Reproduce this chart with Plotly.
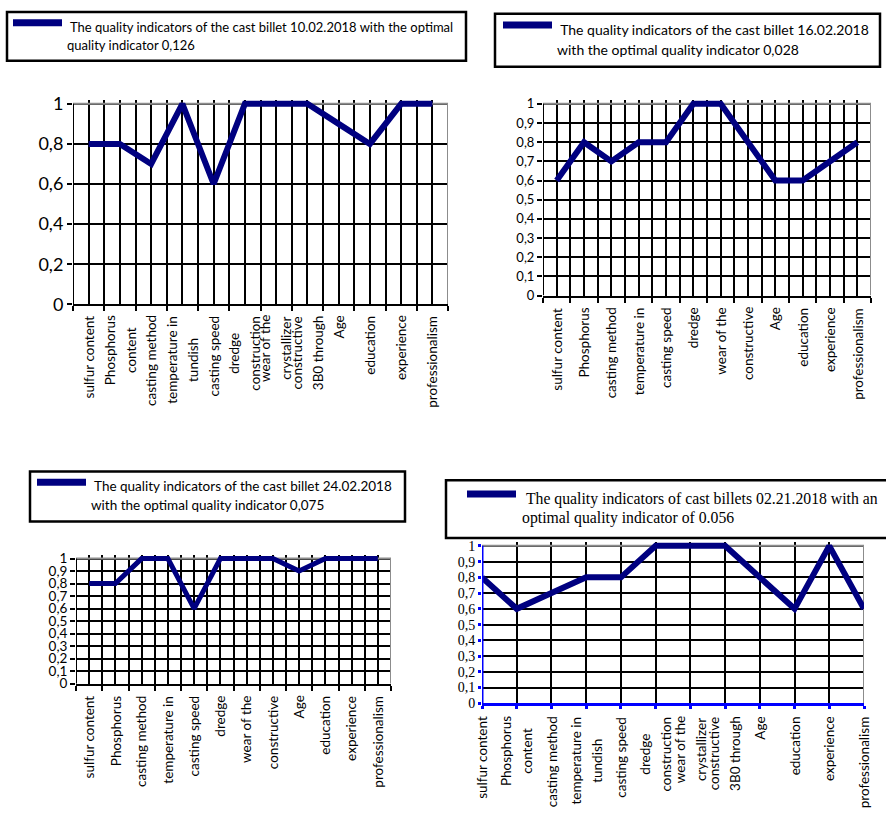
import plotly.graph_objects as go

# ---------------------------------------------------------------- data
CATEGORY_LINES = [
    ("sulfur content",),
    ("Phosphorus", "content"),
    ("casting method",),
    ("temperature in", "tundish"),
    ("casting speed",),
    ("dredge", "construction"),
    ("wear of the", "crystallizer"),
    ("constructive", "3B0 through"),
    ("Age",),
    ("education",),
    ("experience",),
    ("professionalism",),
]
POSITIONS = list(range(1, len(CATEGORY_LINES) + 1))

VALUES_10_02 = [0.8, 0.8, 0.7, 1.0, 0.6, 1.0, 1.0, 1.0, 0.9, 0.8, 1.0, 1.0]
VALUES_16_02 = [0.6, 0.8, 0.7, 0.8, 0.8, 1.0, 1.0, 0.8, 0.6, 0.6, 0.7, 0.8]
VALUES_24_02 = [0.8, 0.8, 1.0, 1.0, 0.6, 1.0, 1.0, 1.0, 0.9, 1.0, 1.0, 1.0]
VALUES_21_02 = [0.8, 0.6, 0.7, 0.8, 0.8, 1.0, 1.0, 1.0, 0.8, 0.6, 1.0, 0.6]

LEGEND_10_02 = ["\u00a0The quality indicators of the cast billet 10.02.2018 with the optimal",
                "quality indicator 0,126"]
LEGEND_16_02 = ["\u00a0The quality indicators of the cast billet 16.02.2018",
                "with the optimal quality indicator 0,028"]
LEGEND_24_02 = ["\u00a0The quality indicators of the cast billet 24.02.2018",
                "with the optimal quality indicator 0,075"]
LEGEND_21_02 = ["\u00a0The quality indicators of cast billets 02.21.2018 with an",
                "optimal quality indicator of 0.056"]

Y_TICKS_COARSE = [0, 0.2, 0.4, 0.6, 0.8, 1]
Y_TICKS_FINE = [0, 0.1, 0.2, 0.3, 0.4, 0.5, 0.6, 0.7, 0.8, 0.9, 1]

# ---------------------------------------------------------------- layout
W, H = 886, 816
NAVY = "#000080"
GREY = "#8c8c8c"
SANS = "Lato, 'Open Sans', sans-serif"
SERIF = "'Liberation Serif', 'DejaVu Serif', serif"

PANELS = [
    dict(values=VALUES_10_02, legend=LEGEND_10_02,
         box=(73, 448, 98, 303), mode="between", yticks=Y_TICKS_COARSE,
         yfont=dict(family=SANS, size=18), full_labels=True, label_shift=10,
         axis_color="black", axis_width=2, line_width=6,
         leg_box=(7, 4, 466, 54), leg_sample=(13, 62, 15), leg_text_x=65,
         leg_lines_y=(19, 38), leg_font=dict(family=SANS, size=13)),
    dict(values=VALUES_16_02, legend=LEGEND_16_02,
         box=(543, 871, 98, 294), mode="between", yticks=Y_TICKS_FINE,
         yfont=dict(family=SANS, size=13), full_labels=False, label_shift=11,
         axis_color="black", axis_width=2, line_width=6,
         leg_box=(495, 6, 880, 60), leg_sample=(503, 552, 17.5), leg_text_x=555,
         leg_lines_y=(22, 42), leg_font=dict(family=SANS, size=14)),
    dict(values=VALUES_24_02, legend=LEGEND_24_02,
         box=(76, 391, 563, 691), mode="between", yticks=Y_TICKS_FINE,
         yfont=dict(family=SANS, size=13.5), full_labels=False, label_shift=11,
         axis_color="black", axis_width=2, line_width=5,
         leg_box=(30, 474, 405, 525), leg_sample=(37, 86, 485), leg_text_x=89,
         leg_lines_y=(489, 508), leg_font=dict(family=SANS, size=13.5)),
    dict(values=VALUES_21_02, legend=LEGEND_21_02,
         box=(482, 864, 550, 711), mode="on", yticks=Y_TICKS_FINE,
         yfont=dict(family=SERIF, size=14), full_labels=True, label_shift=12,
         axis_color="#0000ff", axis_width=3, line_width=6,
         leg_box=(446, 483, 892, 542), leg_sample=(467, 516, 497), leg_text_x=520,
         leg_lines_y=(502, 522), leg_font=dict(family=SERIF, size=15.75)),
]

LABEL_FONT = 13.5     # glyph size of the category labels
LABEL_LINE_GAP = 21   # distance between wrapped label lines, px
TOP_PAD = 4           # room above the value 1 so the thick line is not clipped


def px(x):
    return x / W


def py(y):
    return 1 - y / H


fig = go.Figure()
shapes, annotations = [], []

for i, p in enumerate(PANELS, start=1):
    suffix = "" if i == 1 else str(i)
    xa, ya = f"x{suffix}", f"y{suffix}"
    left, right, top, bottom = p["box"]
    unit = bottom - top
    y_hi = 1 + TOP_PAD / unit

    fig.add_trace(go.Scatter(
        x=POSITIONS, y=p["values"], mode="lines",
        line=dict(color=NAVY, width=p["line_width"]),
        name=" ".join(p["legend"]).strip(), showlegend=False,
        xaxis=xa, yaxis=ya, hoverinfo="skip"))

    n = len(POSITIONS)
    between = p["mode"] == "between"
    if between:
        x_lo, x_hi = 0.5, n + 0.5
        edges = [k + 0.5 for k in range(n + 1)]
        xaxis = dict(tickmode="array", tickvals=edges, showgrid=True,
                     minor=dict(tickmode="array", tickvals=POSITIONS, showgrid=True,
                                gridcolor="black", gridwidth=2, ticks=""))
    else:
        x_lo, x_hi = 1, n
        xaxis = dict(tickmode="array", tickvals=POSITIONS, showgrid=True)
    xaxis.update(domain=[px(left), px(right)], anchor=ya, range=[x_lo, x_hi],
                 gridcolor="black", gridwidth=2, zeroline=False,
                 showline=True, linecolor=p["axis_color"], linewidth=p["axis_width"],
                 ticks="outside", ticklen=5 if between else 3,
                 tickwidth=2 if between else 3,
                 tickcolor=p["axis_color"], showticklabels=False, fixedrange=True)
    fig.layout[f"xaxis{suffix}"] = xaxis

    fig.layout[f"yaxis{suffix}"] = dict(
        domain=[py(bottom), py(top - TOP_PAD)], anchor=xa, range=[0, y_hi],
        tickmode="array", tickvals=p["yticks"], showgrid=True,
        gridcolor="black", gridwidth=2, zeroline=False, showline=False,
        ticks="outside", ticklen=5 if between else 3,
        tickwidth=2 if between else 3,
        tickcolor=p["axis_color"], tickfont=dict(color="black", **p["yfont"]),
        fixedrange=True)

    # plot-area frame: grey on top and right, value axis on the left
    shapes += [
        dict(type="line", xref=xa, yref=ya, x0=x_lo, x1=x_hi, y0=1, y1=1,
             line=dict(color=GREY, width=2), layer="between"),
        dict(type="line", xref=xa, yref=ya, x0=x_hi, x1=x_hi, y0=0, y1=1,
             line=dict(color=GREY, width=2), layer="between"),
        dict(type="line", xref=xa, yref=ya, x0=x_lo, x1=x_lo, y0=0, y1=1,
             line=dict(color=p["axis_color"], width=p["axis_width"]), layer="above"),
    ]

    # rotated category labels under the axis
    for pos, lines in zip(POSITIONS, CATEGORY_LINES):
        shown = lines if p["full_labels"] else lines[:1]
        text = "<br>".join(f"<span style='font-size:{LABEL_FONT}px'>{t}</span>" for t in shown)
        annotations.append(dict(
            xref=xa, x=pos, yref=f"{ya} domain", y=0, yshift=-p["label_shift"],
            text=text, textangle=-90, showarrow=False, xanchor="center", yanchor="top",
            align="center", borderpad=0,
            font=dict(family=SANS, size=LABEL_LINE_GAP / 1.3, color="black")))

    # legend box
    bx0, by0, bx1, by1 = p["leg_box"]
    sx0, sx1, sy = p["leg_sample"]
    shapes += [
        dict(type="rect", xref="paper", yref="paper", x0=px(bx0), x1=px(bx1),
             y0=py(by1), y1=py(by0), line=dict(color="black", width=2.5),
             fillcolor="rgba(0,0,0,0)", layer="above"),
        dict(type="line", xref="paper", yref="paper", x0=px(sx0), x1=px(sx1),
             y0=py(sy), y1=py(sy), line=dict(color=NAVY, width=7), layer="above"),
    ]
    for txt, ly in zip(p["legend"], p["leg_lines_y"]):
        annotations.append(dict(
            xref="paper", yref="paper", x=px(p["leg_text_x"]), y=py(ly),
            xanchor="left", yanchor="middle", text=txt, showarrow=False,
            font=dict(color="black", **p["leg_font"])))

fig.update_layout(
    width=W, height=H, margin=dict(l=0, r=0, t=0, b=0),
    paper_bgcolor="white", plot_bgcolor="rgba(0,0,0,0)",
    separators=", ", showlegend=False,
    shapes=shapes, annotations=annotations,
)

fig.write_html("out.html", config={"displayModeBar": False})
